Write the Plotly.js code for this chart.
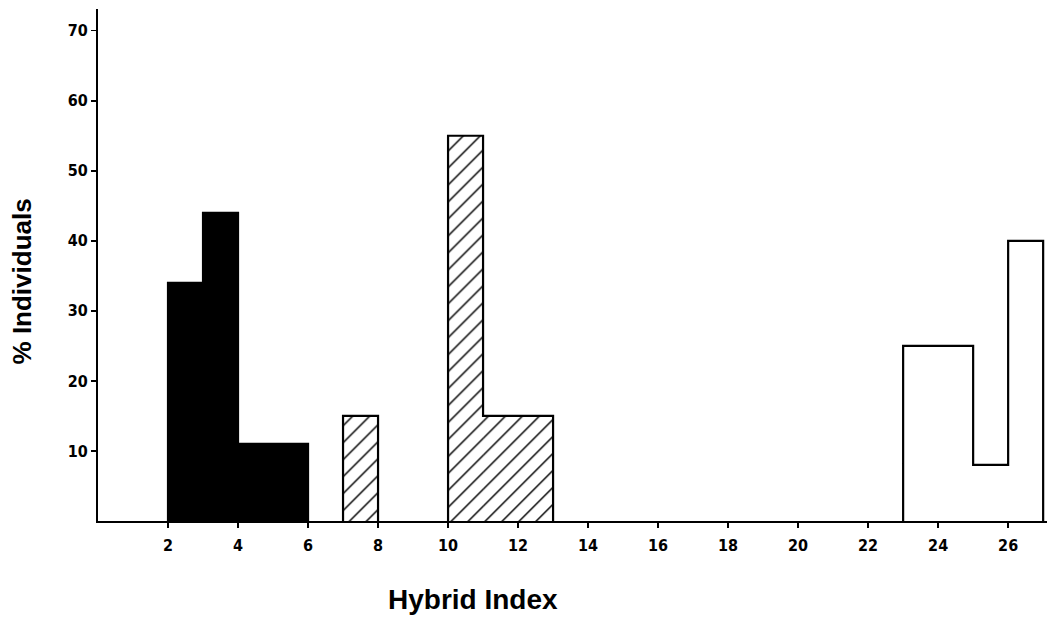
<!DOCTYPE html>
<html>
<head>
<meta charset="utf-8">
<script src="https://cdn.plot.ly/plotly-3.0.1.min.js"></script>
<style>html,body{margin:0;padding:0;background:#fff;}#chart{width:1047px;height:620px;}</style>
</head>
<body>
<div id="chart"></div>
<script>
// Black group
var blackLeft = [2, 3, 4];
var blackWidth = [1, 1, 2];
var blackPct = [34, 44, 11];
// Hatched group
var hatchLeft = [7, 10, 11];
var hatchWidth = [1, 1, 2];
var hatchPct = [15, 55, 15];
// White group
var whiteLeft = [23, 25, 26];
var whiteWidth = [2, 1, 1];
var whitePct = [25, 8, 40];

var xTicks = [2, 4, 6, 8, 10, 12, 14, 16, 18, 20, 22, 24, 26];
var yTicks = [10, 20, 30, 40, 50, 60, 70];

// Build a step outline from bin data (histogram outline; splits where bins are not adjacent)
function outline(lefts, widths, vals) {
  var xs = [], ys = [];
  for (var i = 0; i < lefts.length; i++) {
    var l = lefts[i], r = lefts[i] + widths[i];
    var contiguous = i > 0 && Math.abs(lefts[i - 1] + widths[i - 1] - l) < 1e-9;
    if (!contiguous) {
      if (i > 0) { xs.push(null); ys.push(null); }
      xs.push(l); ys.push(0);
    }
    xs.push(l); ys.push(vals[i]);
    xs.push(r); ys.push(vals[i]);
    var nextContig = i < lefts.length - 1 && Math.abs(r - lefts[i + 1]) < 1e-9;
    if (!nextContig) { xs.push(r); ys.push(0); }
  }
  return {type: 'scatter', mode: 'lines', x: xs, y: ys, line: {color: '#000', width: 2.2}, hoverinfo: 'skip', connectgaps: false};
}

var noLine = {width: 0};
var traces = [
  {type: 'bar', x: blackLeft, y: blackPct, width: blackWidth, offset: 0,
   marker: {color: '#000', line: {color: '#000', width: 1}}, hoverinfo: 'x+y'},
  {type: 'bar', x: hatchLeft, y: hatchPct, width: hatchWidth, offset: 0,
   marker: {color: '#fff', line: noLine,
            pattern: {shape: '/', fgcolor: '#000', bgcolor: '#fff', size: 12, solidity: 0.12}}, hoverinfo: 'x+y'},
  {type: 'bar', x: whiteLeft, y: whitePct, width: whiteWidth, offset: 0,
   marker: {color: '#fff', line: noLine}, hoverinfo: 'x+y'},
  outline(blackLeft, blackWidth, blackPct),
  outline(hatchLeft, hatchWidth, hatchPct),
  outline(whiteLeft, whiteWidth, whitePct)
];

var tickFont = {family: '"DejaVu Sans Condensed", "Liberation Sans Narrow", sans-serif', size: 16, color: '#000', weight: 'bold'};
var titleFont = {family: '"Liberation Sans", Arial, sans-serif', color: '#000', weight: 'bold'};
var layout = {
  width: 1047, height: 620,
  margin: {l: 98, r: 0, t: 9, b: 99},
  paper_bgcolor: '#fff', plot_bgcolor: '#fff',
  showlegend: false, barmode: 'overlay',
  xaxis: {range: [0, 27.11], tickvals: xTicks, ticktext: xTicks.map(String),
          showline: true, linecolor: '#000', linewidth: 2, ticks: 'outside', ticklen: 5,
          tickwidth: 1.5, tickcolor: '#000', showgrid: false, zeroline: false,
          tickfont: tickFont, ticklabelstandoff: 4},
  yaxis: {range: [0, 73.1], tickvals: yTicks, ticktext: yTicks.map(String),
          showline: true, linecolor: '#000', linewidth: 2, ticks: 'outside', ticklen: 5,
          tickwidth: 1.5, tickcolor: '#000', showgrid: false, zeroline: false,
          tickfont: tickFont},
  annotations: [
    {text: '% Individuals', xref: 'paper', yref: 'paper', x: -0.080, y: 0.468, textangle: -90,
     showarrow: false, xanchor: 'center', yanchor: 'middle',
     font: Object.assign({size: 26}, titleFont)},
    {text: 'Hybrid Index', xref: 'paper', yref: 'paper', x: 0.395, y: -0.154,
     showarrow: false, xanchor: 'center', yanchor: 'middle',
     font: Object.assign({size: 28}, titleFont)}
  ]
};
Plotly.newPlot('chart', traces, layout, {displayModeBar: false, staticPlot: true});
</script>
</body>
</html>
